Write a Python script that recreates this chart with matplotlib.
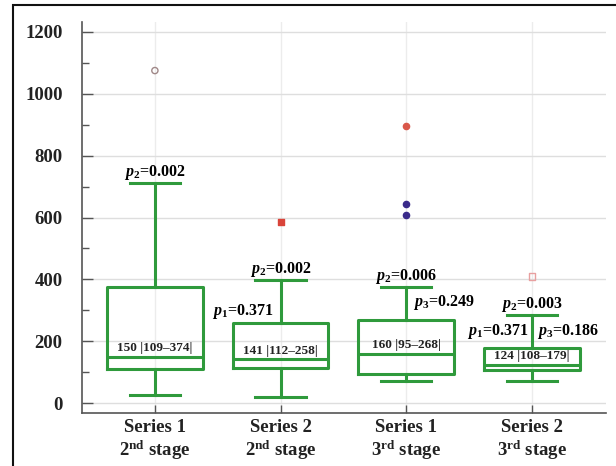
import matplotlib
matplotlib.use("Agg")
import matplotlib.pyplot as plt
from matplotlib.patches import Rectangle

plt.rcParams['font.family'] = ['Liberation Serif', 'DejaVu Serif']
plt.rcParams['font.weight'] = 'bold'
plt.rcParams['mathtext.fontset'] = 'custom'
plt.rcParams['mathtext.rm'] = 'Liberation Serif:bold'
plt.rcParams['mathtext.it'] = 'Liberation Serif:italic:bold'
plt.rcParams['mathtext.bf'] = 'Liberation Serif:bold'

# data
groups = ["Series 1\n2$^{\\rm nd}$ stage", "Series 2\n2$^{\\rm nd}$ stage",
          "Series 1\n3$^{\\rm rd}$ stage", "Series 2\n3$^{\\rm rd}$ stage"]
medians = [150, 141, 160, 124]
q1 = [109, 112, 95, 108]
q3 = [374, 258, 268, 179]
whis_lo = [27, 20, 71, 71]
whis_hi = [710, 398, 374, 285]
box_labels = ["150 |109–374|", "141 |112–258|", "160 |95–268|", "124 |108–179|"]

# outliers: group index, value, colour, marker, filled
out_group = [1, 2, 3, 3, 3, 4]
out_value = [1075, 585, 896, 644, 608, 409]
out_color = ["#a08888", "#d9443a", "#d9574a", "#3a2a8a", "#3a2a8a", "#e8a0a0"]
out_marker = ["o", "s", "o", "o", "o", "s"]
out_filled = [False, True, True, True, True, False]

# p-value annotations: group, text, x offset, y
p_group = [1, 2, 2, 3, 3, 4, 4, 4]
p_text = ["$p_2$=0.002", "$p_2$=0.002", "$p_1$=0.371", "$p_2$=0.006",
          "$p_3$=0.249", "$p_2$=0.003", "$p_1$=0.371", "$p_3$=0.186"]
p_dx = [0, 0, -0.30, 0, 0.30, 0, -0.27, 0.29]
p_y = [745, 432, 295, 410, 325, 320, 230, 230]

green = "#2f9a3c"
positions = [1, 2, 3, 4]

fig = plt.figure(figsize=(6.16, 4.66), dpi=100)
ax = fig.add_axes([82/616, 53/466, (606-82)/616, (444-53)/466])

stats = []
for i in range(4):
    stats.append(dict(med=medians[i], q1=q1[i], q3=q3[i],
                      whislo=whis_lo[i], whishi=whis_hi[i], fliers=[]))

ax.bxp(stats, positions=positions, widths=0.76, showfliers=False,
       boxprops=dict(color=green, linewidth=2.2),
       medianprops=dict(color=green, linewidth=2.2),
       whiskerprops=dict(color=green, linewidth=2.2),
       capprops=dict(color=green, linewidth=2.2),
       capwidths=0.4, zorder=3)

for g, v, c, m, f in zip(out_group, out_value, out_color, out_marker, out_filled):
    ax.scatter([g], [v], marker=m, s=20,
               facecolors=c if f else "none", edgecolors=c, linewidths=1.0, zorder=4)

for g, t, dx, y in zip(p_group, p_text, p_dx, p_y):
    ax.text(g + dx, y, t, ha="center", va="center", fontsize=11.5, zorder=5)

for i in range(4):
    ax.text(positions[i], medians[i] + 8, box_labels[i], ha="center", va="bottom",
            fontsize=9.5, color="#222222", zorder=5)

ax.set_xlim(0.42, 4.59)
ax.set_ylim(-32, 1232)
ax.set_yticks([0, 200, 400, 600, 800, 1000, 1200])
ax.set_yticks([100, 300, 500, 700, 900, 1100], minor=True)
ax.set_xticks(positions)
ax.set_xticklabels(groups, fontsize=13.5, linespacing=1.2)
ax.tick_params(axis='y', direction='in', length=8, width=1, colors="#555555",
               labelcolor="#222222", labelsize=13.5, pad=14)
ax.tick_params(axis='y', which='minor', direction='in', length=5, width=1, colors="#555555")
ax.tick_params(axis='x', direction='in', length=6, width=1, colors="#555555",
               labelcolor="#222222", pad=4)

ax.grid(True, axis='y', color="#dedede", linewidth=1.0, zorder=0)
ax.grid(True, axis='x', color="#ececec", linewidth=1.0, zorder=0)
ax.set_axisbelow(True)
for s in ["top", "right"]:
    ax.spines[s].set_visible(False)
for s in ["left", "bottom"]:
    ax.spines[s].set_color("#555555")
    ax.spines[s].set_linewidth(1.2)

# outer frame of the figure panel (left and top edges only visible)
fig.patches.append(Rectangle((13/616, -0.1), 1.2, (466-5)/466 + 0.1,
                             transform=fig.transFigure, fill=False,
                             edgecolor="#111111", linewidth=1.5))

fig.savefig("out.png", dpi=100)
